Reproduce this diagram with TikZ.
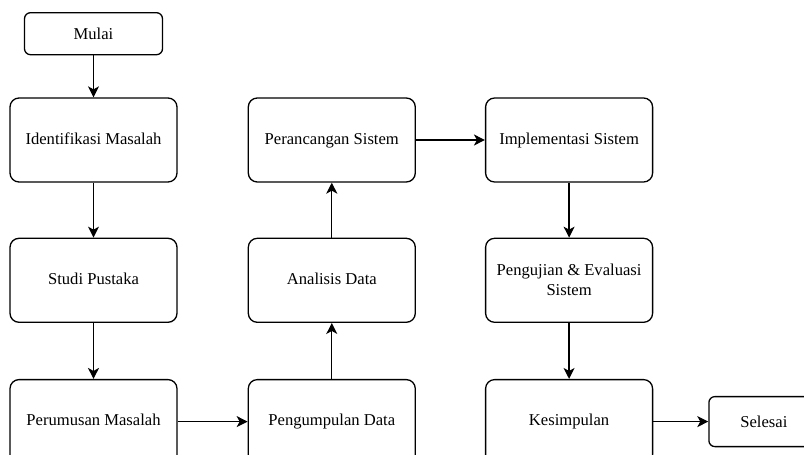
\documentclass[tikz,border=0pt]{standalone}
\usepackage{fontspec}
\setmainfont{Liberation Serif}
\usepackage{tikz}
\usetikzlibrary{
  arrows.meta,
  positioning,
}
\tikzstyle{flowarrow} = [
  -{Stealth[length=11pt,width=11pt,inset=3pt]},
  line width=1.3pt,
]

\begin{document}
\begin{tikzpicture}[x=1pt,y=1pt,node distance=55pt and 70pt,
    every node/.style={font=\fontsize{16.6}{20}\selectfont},
    flowbox/.style={rectangle,draw,line width=1.3pt,rounded corners=9,minimum width=167,minimum height=84,align=center,text height=11.5pt,text depth=3.5pt},
    endbox/.style={rectangle,draw,line width=1.3pt,rounded corners=6,minimum height=42}]

      \useasboundingbox (0,0) rectangle (804,-455);
      \clip (0,0) rectangle (804,-455);

      \node[flowbox] (ident) at (93.5,-140) {Identifikasi Masalah};
      \node[endbox,minimum width=138] (mulai) [above=42pt of ident] {Mulai};
      \node[flowbox] (studi) [below=of ident] {Studi Pustaka};
      \node[flowbox,yshift=-1] (rumus) [below=of studi] {Perumusan Masalah};

      \node[flowbox] (kumpul) [right=of rumus] {Pengumpulan Data};
      \node[flowbox,yshift=1] (analisis) [above=of kumpul] {Analisis Data};
      \node[flowbox] (rancang) [above=of analisis] {Perancangan Sistem};

      \node[flowbox,xshift=-1] (implement) [right=of rancang] {Implementasi Sistem};
      \node[flowbox,text height={},text depth={}] (uji) [below=of implement] {Pengujian \& Evaluasi\\Sistem};
      \node[flowbox,yshift=-1] (simpul) [below=of uji] {Kesimpulan};
      \node[endbox,minimum width=110,minimum height=50] (selesai) [right=55pt of simpul] {Selesai};

      \draw[flowarrow] (mulai) -- (ident);
      \draw[flowarrow] (ident) -- (studi);
      \draw[flowarrow] (studi) -- (rumus);
      \draw[flowarrow] (rumus) -- (kumpul);
      \draw[flowarrow] (kumpul) -- (analisis);
      \draw[flowarrow] (analisis) -- (rancang);
      \draw[flowarrow] (rancang) -- (implement);
      \draw[flowarrow] (implement) -- (uji);
      \draw[flowarrow] (uji) -- (simpul);
      \draw[flowarrow] (simpul) -- (selesai);

    \end{tikzpicture}
\end{document}
